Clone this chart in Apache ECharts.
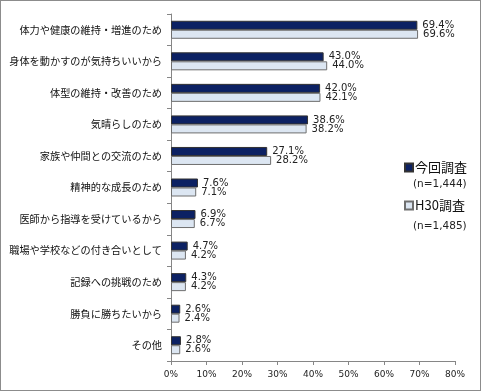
<!DOCTYPE html>
<html><head><meta charset="utf-8">
<script src="https://cdn.jsdelivr.net/npm/echarts@6/dist/echarts.min.js"></script>
<style>html,body{margin:0;padding:0;background:#fff}#c{width:481px;height:391px;box-sizing:border-box;border:1px solid #8c8c8c}</style>
</head><body><div id="c"></div>
<script>
const categories = ["体力や健康の維持・増進のため","身体を動かすのが気持ちいいから","体型の維持・改善のため","気晴らしのため","家族や仲間との交流のため","精神的な成長のため","医師から指導を受けているから","職場や学校などの付き合いとして","記録への挑戦のため","勝負に勝ちたいから","その他"];
const current = [69.4,43.0,42.0,38.6,27.1,7.6,6.9,4.7,4.3,2.6,2.8];
const h30 = [69.6,44.0,42.1,38.2,28.2,7.1,6.7,4.2,4.2,2.4,2.6];
const seriesNames = ["今回調査","H30調査"];
const sampleSizes = ["(n=1,444)","(n=1,485)"];
const xTicks = [0,10,20,30,40,50,60,70,80];

const chart = echarts.init(document.getElementById('c'));
const font = "'Noto Sans CJK JP', sans-serif";
const lat = "DejaVu Sans, sans-serif";
const lbl = {show:true,position:'right',distance:5,fontSize:10,color:'#222',fontFamily:lat,formatter:p=>p.value.toFixed(1)+'%'};
chart.setOption({
  animation:false,
  grid:{left:170,right:25,top:13,bottom:29,containLabel:false},
  legend:{
    orient:'vertical',left:398,top:155,itemWidth:8,itemHeight:8,itemGap:25,icon:'rect',
    data:seriesNames,
    textStyle:{fontSize:13,fontFamily:font,color:'#111',padding:[0,0,0,-3]}
  },
  graphic:sampleSizes.map((s,i)=>({type:'text',left:412,top:178+i*42,style:{text:s,fontSize:10.5,fontFamily:lat,fill:'#222'}})),
  xAxis:{type:'value',min:0,max:80,interval:10,
    axisLine:{show:true,lineStyle:{color:'#868686'}},
    axisTick:{show:true,length:4,lineStyle:{color:'#868686'}},
    splitLine:{show:false},
    axisLabel:{fontSize:9,color:'#222',fontFamily:lat,margin:9,formatter:v=>v+'%'}},
  yAxis:{type:'category',data:categories,inverse:true,
    axisLine:{show:true,lineStyle:{color:'#868686'}},
    axisTick:{show:true,length:4,inside:false,lineStyle:{color:'#868686'}},
    axisLabel:{fontSize:10.2,color:'#111',fontFamily:font,margin:9}},
  series:[
    {name:seriesNames[0],type:'bar',data:current,barWidth:9,barGap:'0%',
     itemStyle:{color:'#0c2163',borderColor:'#333',borderWidth:1},label:lbl},
    {name:seriesNames[1],type:'bar',data:h30,barWidth:9,
     itemStyle:{color:'#dce6f2',borderColor:'#6e6e6e',borderWidth:1},label:lbl}
  ]
});
</script></body></html>
